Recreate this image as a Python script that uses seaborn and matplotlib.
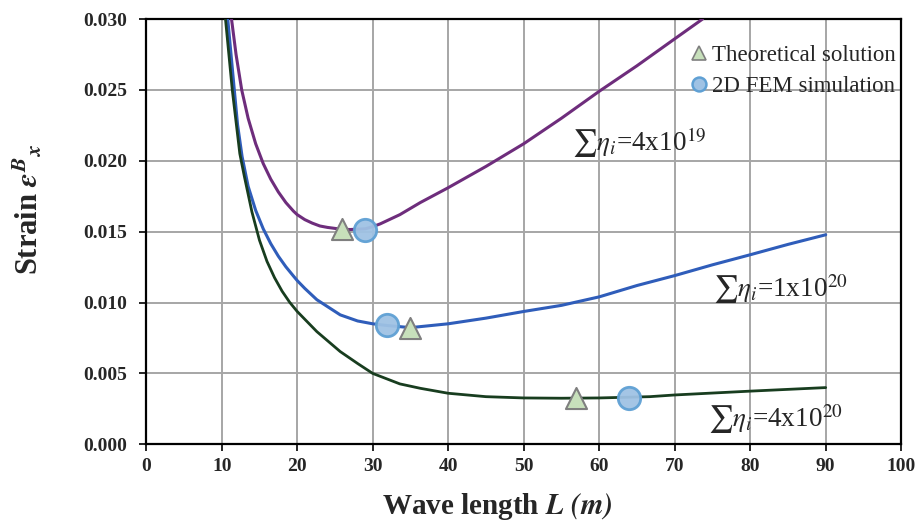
import numpy as np
import pandas as pd
import matplotlib
matplotlib.use("Agg")
import matplotlib.pyplot as plt
import seaborn as sns
from matplotlib.lines import Line2D

# ---- data ----
L_4e19 = [11.3, 11.9, 12.65, 13.5, 14.5, 15.5, 16.5, 17.5, 18.5, 19.5, 20.0, 21.0, 22.0, 23.0, 24.0,
          25.7, 27.0, 29.0, 30.0, 31.0, 33.6, 36.3, 40.0, 45.0, 50.0, 55.0, 60.0, 65.0, 70.0, 73.7]
S_4e19 = [0.0300, 0.0275, 0.0250, 0.0230, 0.0212, 0.0198, 0.0187, 0.0178, 0.01705, 0.01645, 0.0162,
          0.01585, 0.0156, 0.0154, 0.0153, 0.01518, 0.01515, 0.0152, 0.01535, 0.01555, 0.0162, 0.01705,
          0.0181, 0.0196, 0.0212, 0.0230, 0.0249, 0.0267, 0.0286, 0.0300]

L_1e20 = [10.8, 11.67, 12.1, 12.7, 13.5, 14.5, 15.5, 16.5, 17.5, 18.5, 19.5, 20.0, 21.0, 22.6, 25.7,
          28.0, 30.0, 31.9, 35.0, 40.0, 45.0, 50.0, 55.0, 60.0, 65.0, 70.0, 75.0, 80.0, 85.0, 90.0]
S_1e20 = [0.0300, 0.0250, 0.02255, 0.0203, 0.0182, 0.0165, 0.0152, 0.01415, 0.01327, 0.01252, 0.01187,
          0.01155, 0.0110, 0.0102, 0.00913, 0.0087, 0.0085, 0.00838, 0.00823, 0.0085, 0.0089, 0.00937,
          0.0098, 0.0104, 0.0112, 0.0119, 0.01266, 0.01337, 0.0141, 0.01478]

L_4e20 = [10.5, 11.4, 12.4, 13.0, 14.0, 15.0, 16.0, 17.0, 18.0, 19.0, 20.0, 22.6, 25.7, 28.0, 30.0,
          33.6, 36.3, 40.0, 45.0, 50.0, 55.0, 60.0, 66.7, 70.0, 80.0, 90.0]
S_4e20 = [0.0300, 0.0250, 0.0205, 0.0189, 0.0164, 0.0144, 0.0129, 0.01175, 0.0108, 0.01002, 0.00937,
          0.00795, 0.00654, 0.0057, 0.0050, 0.00426, 0.00395, 0.0036, 0.00336, 0.00327, 0.00325,
          0.00327, 0.00336, 0.00348, 0.00375, 0.0040]

theory_L = [25.9, 34.9, 56.9]
theory_S = [0.0152, 0.00819, 0.00327]
fem_L = [29.0, 31.9, 63.9]
fem_S = [0.01513, 0.00838, 0.00325]

x_ticks = [0, 10, 20, 30, 40, 50, 60, 70, 80, 90, 100]
y_ticks = [0.000, 0.005, 0.010, 0.015, 0.020, 0.025, 0.030]

sns.set_theme(style="white")
plt.rcParams['font.family'] = ['Liberation Serif', 'DejaVu Serif']
plt.rcParams['mathtext.fontset'] = 'stix'

W, H = 917, 522
fig = plt.figure(figsize=(W / 100, H / 100), dpi=100)
ax = fig.add_axes([146.2 / W, 1 - 444.3 / H, 755 / W, 425.3 / H])

c_purple = '#6e2d7c'
c_blue = '#2f5dba'
c_green = '#183d1f'

for Lx, Sx, col, lw in [(L_4e19, S_4e19, c_purple, 2.2),
                        (L_1e20, S_1e20, c_blue, 2.2),
                        (L_4e20, S_4e20, c_green, 2.0)]:
    df = pd.DataFrame({'L': Lx, 'S': Sx})
    sns.lineplot(data=df, x='L', y='S', ax=ax, color=col, lw=lw,
                 estimator=None, sort=True, zorder=3)

sns.scatterplot(x=theory_L, y=theory_S, ax=ax, marker='^', s=230,
                color='#c7e0bb', edgecolor='#7f7f7f', linewidth=1.5, zorder=5)
sns.scatterplot(x=fem_L, y=fem_S, ax=ax, marker='o', s=260,
                color='#9fc2e4', edgecolor='#5fa0d4', linewidth=2, alpha=0.95, zorder=5)

ax.set_xlim(0, 100)
ax.set_ylim(0, 0.030)
ax.set_xticks(x_ticks)
ax.set_yticks(y_ticks)
ax.set_xticklabels([str(v) for v in x_ticks], fontweight='bold', fontsize=14)
ax.set_yticklabels([f"{v:.3f}" for v in y_ticks], fontweight='bold', fontsize=14)
ax.grid(True, color='#a6a6a6', lw=1.4)
ax.set_axisbelow(True)
for s in ax.spines.values():
    s.set_color('black')
    s.set_linewidth(1.6)
ax.tick_params(axis='both', direction='out', length=5, width=1.2, color='black',
               left=True, bottom=True)
ax.tick_params(axis='y', pad=9)
ax.tick_params(axis='x', pad=5)

ax.set_xlabel("")
ax.set_ylabel("")
fig.text(497 / W, 1 - 506 / H, r"Wave length $\mathbfit{L}$ $\mathbfit{(m)}$", fontsize=21,
         fontweight='bold', ha='center', va='center')
fig.text(28 / W, 1 - 209 / H,
         r"Strain $\mathbfit{\varepsilon}^{\mathbfit{B}}{}_{\mathbfit{x}}$", fontsize=22,
         fontweight='bold', ha='center', va='center', rotation=90)

ax.text(56.4, 0.0207, r"$\sum\eta_i$=4x10$^{19}$", fontsize=19.5, va='baseline', ha='left')
ax.text(75.1, 0.01042, r"$\sum\eta_i$=1x10$^{20}$", fontsize=19.5, va='baseline', ha='left')
ax.text(74.4, 0.00124, r"$\sum\eta_i$=4x10$^{20}$", fontsize=19.5, va='baseline', ha='left')

handles = [Line2D([], [], ls='none', marker='^', ms=10, mfc='#c7e0bb', mec='#7f7f7f', mew=1.2),
           Line2D([], [], ls='none', marker='o', ms=10, mfc='#9fc2e4', mec='#5fa0d4', mew=1.8)]
ax.legend(handles, ["Theoretical solution", "2D FEM simulation"], loc='upper right',
          bbox_to_anchor=(1.005, 0.96), frameon=False, fontsize=16.5,
          handletextpad=0.05, handlelength=1.0, borderaxespad=0, labelspacing=0.42)

fig.savefig("out.png", dpi=100)
